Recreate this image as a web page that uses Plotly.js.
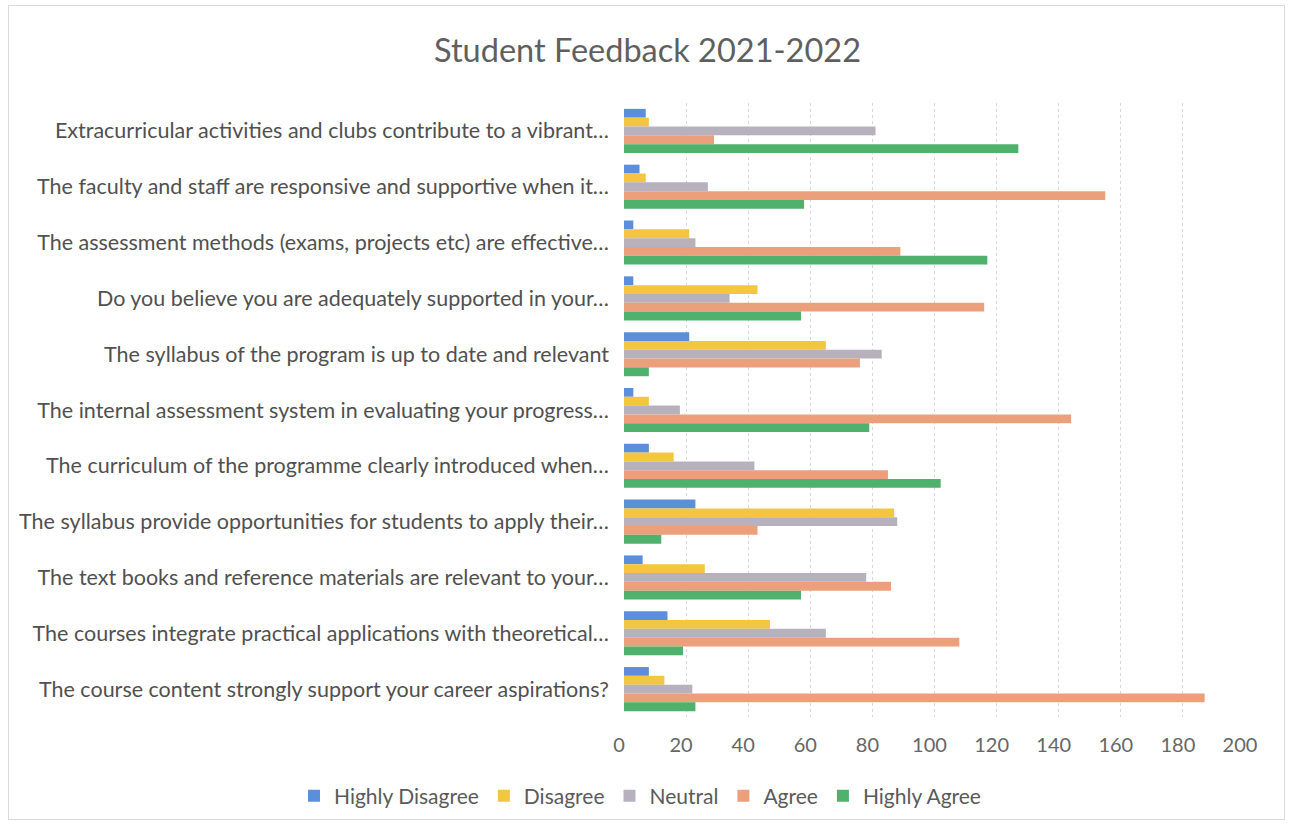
<!DOCTYPE html>
<html><head><meta charset="utf-8">
<script src="https://cdn.plot.ly/plotly-3.0.1.min.js"></script>
<style>
body{margin:0;background:#fff;}
#chart{position:absolute;left:8px;top:5px;width:1277px;height:815px;border:1px solid #dadada;box-sizing:border-box;}
</style></head>
<body><div id="chart"></div>
<script>
const categories = [
  "Extracurricular activities and clubs contribute to a vibrant…",
  "The faculty and staff are responsive and supportive when it…",
  "The assessment methods (exams, projects etc) are effective…",
  "Do you believe you are adequately supported in your…",
  "The syllabus of the program is up to date and relevant",
  "The internal assessment system in evaluating your progress…",
  "The curriculum of the programme clearly introduced when…",
  "The syllabus provide opportunities for students to apply their…",
  "The text books and reference materials are relevant to your…",
  "The courses integrate practical applications with theoretical…",
  "The course content strongly support your career aspirations?"
];
const seriesNames = ["Highly Disagree","Disagree","Neutral","Agree","Highly Agree"];
const highlyDisagree = [7, 5, 3, 3, 21, 3, 8, 23, 6, 14, 8];
const disagree       = [8, 7, 21, 43, 65, 8, 16, 87, 26, 47, 13];
const neutral        = [81, 27, 23, 34, 83, 18, 42, 88, 78, 65, 22];
const agree          = [29, 155, 89, 116, 76, 144, 85, 43, 86, 108, 187];
const highlyAgree    = [127, 58, 117, 57, 8, 79, 102, 12, 57, 19, 23];
const xTicks = [0,20,40,60,80,100,120,140,160,180,200];

const colors = ["#5b8fdb","#f3c640","#b7b1bd","#eba07b","#4fb16b"];
const values = [highlyDisagree, disagree, neutral, agree, highlyAgree];
const font = "Lato, 'Open Sans', sans-serif";

const traces = values.map((v,i)=>({
  type:"bar", orientation:"h", name:seriesNames[i],
  y:categories, x:v, marker:{color:colors[i]}, hoverinfo:"x+name"
}));

const W = 1277, H = 815, ML = 615, MR = 41, MT = 97, MB = 104;
const plotW = W - ML - MR, plotH = H - MT - MB;

const layout = {
  width:W, height:H,
  margin:{l:ML, r:MR, t:MT, b:MB, autoexpand:false},
  paper_bgcolor:"rgba(0,0,0,0)", plot_bgcolor:"#fff",
  font:{family:font, color:"#595959", size:20},
  title:{text:"Student Feedback 2021-2022", font:{family:font, size:32.5, color:"#5f5f5f"},
         xref:"container", x:0.5, xanchor:"center", yref:"container", y:1-45/H, yanchor:"middle"},
  barmode:"group", bargap:0.21, bargroupgap:0,
  xaxis:{range:[0,200], tickvals:xTicks, ticktext:xTicks.map(String), showgrid:true,
         gridcolor:"#d8d8d8", griddash:"dot", gridwidth:1, zeroline:false, showline:false,
         ticks:"", ticklabelstandoff:14, ticklabelshift:-5, tickfont:{size:20, color:"#666666"}, fixedrange:true},
  yaxis:{autorange:"reversed", type:"category", showgrid:false, zeroline:false, showline:false,
         ticks:"", ticklabelstandoff:14, tickfont:{size:21.5, color:"#505050"}, fixedrange:true},
  showlegend:true,
  legend:{orientation:"h", xref:"paper", x:(285-ML)/plotW, xanchor:"left",
          yref:"paper", y:-(790-(H-MB))/plotH, yanchor:"middle",
          font:{size:21, color:"#5a5a5a"}, itemwidth:30, traceorder:"normal"}
};
Plotly.newPlot("chart", traces, layout, {displayModeBar:false, staticPlot:true});
</script></body></html>
